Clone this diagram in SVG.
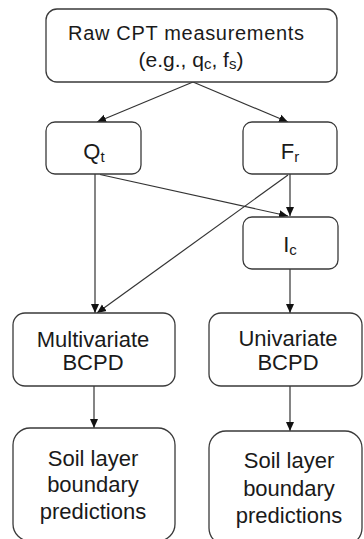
<svg xmlns="http://www.w3.org/2000/svg" width="364" height="539" viewBox="0 0 364 539">
<style>
.box{fill:#fff;stroke:#3a3a3a;stroke-width:1.3}
.t{font-family:"Liberation Sans",Arial,sans-serif;font-size:20px;fill:#1a1a1a;text-anchor:middle}
.m{font-size:21px}
.b{font-size:22px}
.s{font-size:15px}
.c{fill:none;stroke:#333;stroke-width:1.2;marker-end:url(#ah)}
</style>
<defs>
<marker id="ah" markerUnits="userSpaceOnUse" markerWidth="10" markerHeight="10" viewBox="0 0 10 10" refX="9" refY="5" orient="auto">
<path d="M0,1 L9,5 L0,9 z" fill="#111"/>
</marker>
</defs>
<rect width="364" height="539" fill="#fff"/>
<g id="connectors">
<line class="c" x1="193" y1="82" x2="97" y2="122"/>
<line class="c" x1="193" y1="82" x2="288" y2="122"/>
<line class="c" x1="95" y1="174" x2="95" y2="313"/>
<line class="c" x1="100" y1="174.5" x2="288" y2="216"/>
<line class="c" x1="288" y1="175" x2="97" y2="313"/>
<line class="c" x1="290" y1="174" x2="290" y2="216"/>
<line class="c" x1="290" y1="269" x2="290" y2="313"/>
<line class="c" x1="94" y1="386" x2="94" y2="428"/>
<line class="c" x1="290" y1="386" x2="290" y2="431"/>
</g>
<g id="raw">
<rect class="box" x="46" y="9" width="291" height="73" rx="11"/>
<text class="t" x="186" y="40" textLength="236" lengthAdjust="spacing">Raw CPT measurements</text>
<text class="t m" x="191" y="67">(e.g., q<tspan class="s" dy="2">c</tspan><tspan dy="-2">, f</tspan><tspan class="s" dy="2">s</tspan><tspan dy="-2">)</tspan></text>
</g>
<g id="qt">
<rect class="box" x="46" y="122" width="95" height="52" rx="9"/>
<text class="t b" x="94" y="159">Q<tspan class="s" dy="3">t</tspan></text>
</g>
<g id="fr">
<rect class="box" x="243" y="122" width="94" height="52" rx="9"/>
<text class="t b" x="290" y="159">F<tspan class="s" dy="3">r</tspan></text>
</g>
<g id="ic">
<rect class="box" x="243" y="217" width="95" height="52" rx="9"/>
<text class="t b" x="290" y="252">I<tspan class="s" dy="3">c</tspan></text>
</g>
<g id="multi">
<rect class="box" x="13" y="313" width="162" height="73" rx="12"/>
<text class="t b" x="93" y="347">Multivariate</text>
<text class="t b" x="93" y="370">BCPD</text>
</g>
<g id="uni">
<rect class="box" x="209" y="313" width="153" height="73" rx="12"/>
<text class="t b" x="288" y="346">Univariate</text>
<text class="t b" x="288" y="370">BCPD</text>
</g>
<g id="soil1">
<rect class="box" x="13" y="428" width="162" height="113" rx="17"/>
<text class="t b" x="93" y="466">Soil layer</text>
<text class="t b" x="93" y="492">boundary</text>
<text class="t b" x="93" y="519">predictions</text>
</g>
<g id="soil2">
<rect class="box" x="209" y="431" width="153" height="114" rx="17"/>
<text class="t b" x="289" y="468">Soil layer</text>
<text class="t b" x="289" y="496">boundary</text>
<text class="t b" x="289" y="523">predictions</text>
</g>
</svg>
